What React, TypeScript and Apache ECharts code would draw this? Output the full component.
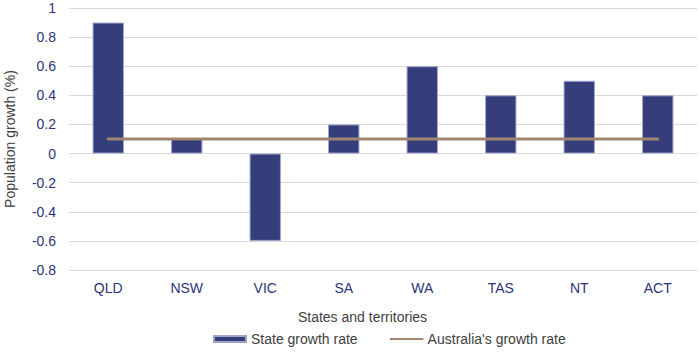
import React, { useEffect, useRef } from "react";
import * as echarts from "echarts";

const categories = ["QLD", "NSW", "VIC", "SA", "WA", "TAS", "NT", "ACT"];
const stateGrowth = [0.9, 0.1, -0.6, 0.2, 0.6, 0.4, 0.5, 0.4];
const australiaGrowth = [0.1, 0.1, 0.1, 0.1, 0.1, 0.1, 0.1, 0.1];

export default function App() {
  const ref = useRef<HTMLDivElement>(null);
  useEffect(() => {
    if (!ref.current) return;
    const chart = echarts.init(ref.current, undefined, { renderer: "svg" });
    const font = "Liberation Sans, Arial, sans-serif";
    chart.setOption({
      animation: false,
      textStyle: { fontFamily: font },
      grid: {
        left: 69,
        right: 3,
        top: 8,
        bottom: 83,
        containLabel: false,
        outerBoundsMode: "none",
      },
      legend: {
        bottom: 2,
        left: 208,
        itemGap: 32,
        itemWidth: 32,
        itemHeight: 6,
        textStyle: { color: "#404040", fontSize: 14, fontFamily: font },
        data: [
          { name: "State growth rate", icon: "rect" },
          { name: "Australia's growth rate", itemStyle: { opacity: 0 } },
        ],
      },
      xAxis: {
        type: "category",
        data: categories,
        name: "States and territories",
        nameLocation: "middle",
        nameGap: 40,
        nameTextStyle: { color: "#404040", fontSize: 14, padding: [0, 41, 0, 0] },
        axisLine: { show: false },
        axisTick: { show: false },
        axisLabel: { color: "#2e3478", fontSize: 14, margin: 11 },
      },
      yAxis: {
        type: "value",
        min: -0.8,
        max: 1,
        interval: 0.2,
        name: "Population growth (%)",
        nameLocation: "middle",
        nameGap: 52,
        nameTextStyle: { color: "#404040", fontSize: 14 },
        axisLabel: {
          color: "#2e3478",
          fontSize: 14,
          margin: 13,
          formatter: (v: number) => String(Math.round(v * 10) / 10),
        },
        splitLine: { lineStyle: { color: "#d9d9d9", width: 1 } },
        axisLine: { show: false },
        axisTick: { show: false },
      },
      series: [
        {
          name: "State growth rate",
          type: "bar",
          data: stateGrowth,
          barWidth: "40%",
          itemStyle: { color: "#353d7b", borderColor: "#9ea4cc", borderWidth: 1 },
        },
        {
          name: "Australia's growth rate",
          type: "line",
          data: australiaGrowth,
          symbol: "none",
          showSymbol: false,
          lineStyle: { color: "#a08570", width: 3, cap: "round" },
          itemStyle: { color: "#a08570" },
        },
      ],
    });
    return () => chart.dispose();
  }, []);
  return (
    <div
      ref={ref}
      style={{ position: "fixed", left: 0, top: 0, width: 700, height: 353, background: "#fff" }}
    />
  );
}
